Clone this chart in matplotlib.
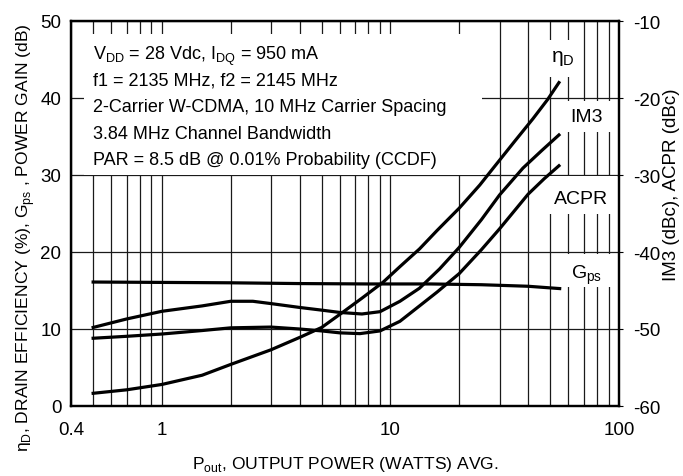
import matplotlib
matplotlib.use("Agg")
import matplotlib.pyplot as plt
from matplotlib.patches import Rectangle
from matplotlib.ticker import FixedLocator, NullFormatter, LogLocator

plt.rcParams['font.family'] = ['Liberation Sans', 'DejaVu Sans']
plt.rcParams['mathtext.fontset'] = 'custom'
plt.rcParams['mathtext.rm'] = 'Liberation Sans'

# Gps, power gain (dB) - left axis
pout_gps = [0.5, 1, 2, 4, 8, 15, 25, 40, 55]
gps = [16.1, 16.05, 16.0, 15.9, 15.85, 15.85, 15.75, 15.55, 15.25]

# drain efficiency (%) - left axis
pout_eta = [0.5, 0.7, 1, 1.5, 2, 3, 4, 5, 6.2, 7.5, 9.3, 11, 13.4, 16, 20, 24.6, 28, 35, 42, 48.7, 54.6]
eta_d = [1.65, 2.1, 2.8, 4.0, 5.4, 7.3, 8.9, 10.2, 12.2, 14.0, 16.1, 18.1, 20.4, 22.8, 25.7,
         28.7, 30.8, 34.4, 37.3, 39.8, 42.0]

# IM3 (dBc) - right axis
pout_im3 = [0.5, 0.7, 1, 1.5, 2, 2.5, 3, 4, 5, 6, 7.5, 9, 11, 13.4, 16.4, 20, 25, 30, 38, 46, 54.6]
im3 = [-49.8, -48.7, -47.7, -47.0, -46.4, -46.4, -46.7, -47.2, -47.55, -47.85, -48.05, -47.75,
       -46.4, -44.7, -42.2, -39.4, -35.8, -32.6, -29.1, -26.8, -24.8]

# ACPR (dBc) - right axis
pout_acpr = [0.5, 0.7, 1, 1.5, 2, 3, 4, 5, 6, 7.35, 9, 11, 13.4, 16, 20, 25, 30, 40, 47, 54.6]
acpr = [-51.2, -50.95, -50.65, -50.2, -49.85, -49.75, -50.0, -50.25, -50.5, -50.6, -50.25,
        -49.0, -47.0, -45.2, -42.8, -39.7, -37.0, -32.5, -30.5, -28.8]

left_ticks = [0, 10, 20, 30, 40, 50]
right_ticks = [-60, -50, -40, -30, -20, -10]
x_ticks = [0.4, 1, 10, 100]
x_ticklabels = ['0.4', '1', '10', '100']

notes = [r'V$_{\mathregular{DD}}$ = 28 Vdc, I$_{\mathregular{DQ}}$ = 950 mA',
         'f1 = 2135 MHz, f2 = 2145 MHz',
         '2-Carrier W-CDMA, 10 MHz Carrier Spacing',
         '3.84 MHz Channel Bandwidth',
         'PAR = 8.5 dB @ 0.01% Probability (CCDF)']

W, H = 683, 477
fig = plt.figure(figsize=(W / 100, H / 100), dpi=100)
ax = fig.add_axes([71 / W, 1 - 407 / H, 548 / W, 385 / H])
ax2 = ax.twinx()

ax.set_xscale('log')
ax.set_xlim(0.4, 100)
ax.set_ylim(0, 50)
ax2.set_ylim(-60, -10)

ax.xaxis.set_major_locator(FixedLocator(x_ticks))
ax.set_xticklabels(x_ticklabels)
ax.xaxis.set_minor_locator(LogLocator(base=10, subs=range(2, 10)))
ax.xaxis.set_minor_formatter(NullFormatter())
ax.set_yticks(left_ticks)
ax2.set_yticks(right_ticks)
ax2.set_yticklabels([str(t) for t in right_ticks])

ax.set_axisbelow(True)
ax.grid(True, which='both', axis='x', color='#1a1a1a', lw=0.9)
ax.grid(True, which='major', axis='y', color='#1a1a1a', lw=0.9)

ax.tick_params(axis='x', which='both', length=0, pad=11, labelsize=13.5)
ax.tick_params(axis='y', length=0, pad=7, labelsize=13.5)
ax2.tick_params(axis='y', direction='out', length=3, pad=7, labelsize=13.5)

for a in (ax, ax2):
    for s in a.spines.values():
        s.set_linewidth(1.6)

# white box behind the conditions text
ax.add_patch(Rectangle((0.024, 0.6), 0.726, 0.366, transform=ax.transAxes,
                       facecolor='white', edgecolor='none', zorder=2))

ax.plot(pout_gps, gps, color='black', lw=2.3, zorder=3)
ax.plot(pout_eta, eta_d, color='black', lw=2.3, zorder=3)
ax2.plot(pout_im3, im3, color='black', lw=2.3, zorder=3)
ax2.plot(pout_acpr, acpr, color='black', lw=2.3, zorder=3)

text_y = [0.901, 0.834, 0.765, 0.696, 0.629]
for s, yy in zip(notes, text_y):
    ax.text(0.040, yy, s, transform=ax.transAxes, fontsize=13, va='baseline', ha='left', zorder=4)

# white patches behind the curve labels
for (x0, y0, w, h) in [(0.870, 0.855, 0.06, 0.095), (0.878, 0.712, 0.118, 0.080),
                       (0.870, 0.499, 0.126, 0.098), (0.896, 0.309, 0.100, 0.086)]:
    ax2.add_patch(Rectangle((x0, y0), w, h, transform=ax.transAxes,
                            facecolor='white', edgecolor='none', zorder=2))

ax2.text(0.898, 0.906, r'η$_{\mathregular{D}}$', transform=ax.transAxes, fontsize=15,
         ha='center', va='center', zorder=4)
ax2.text(0.940, 0.751, 'IM3', transform=ax.transAxes, fontsize=14, ha='center', va='center', zorder=4)
ax2.text(0.931, 0.538, 'ACPR', transform=ax.transAxes, fontsize=14, ha='center', va='center', zorder=4)
ax2.text(0.940, 0.343, r'G$_{\mathregular{ps}}$', transform=ax.transAxes, fontsize=14,
         ha='center', va='center', zorder=4)

fig.text(345 / W, 1 - 465 / H, r'P$_{\mathregular{out}}$, OUTPUT POWER (WATTS) AVG.',
         fontsize=12.6, ha='center', va='center')
fig.text(26 / W, 1 - 238 / H,
         r'η$_{\mathregular{D}}$, DRAIN EFFICIENCY (%), G$_{\mathregular{ps}}$ , POWER GAIN (dB)',
         fontsize=12.6, ha='center', va='center', rotation=90)
fig.text(672 / W, 1 - 185 / H, 'IM3 (dBc), ACPR (dBc)', fontsize=13.5,
         ha='center', va='center', rotation=90)

fig.savefig('out.png', dpi=100)
